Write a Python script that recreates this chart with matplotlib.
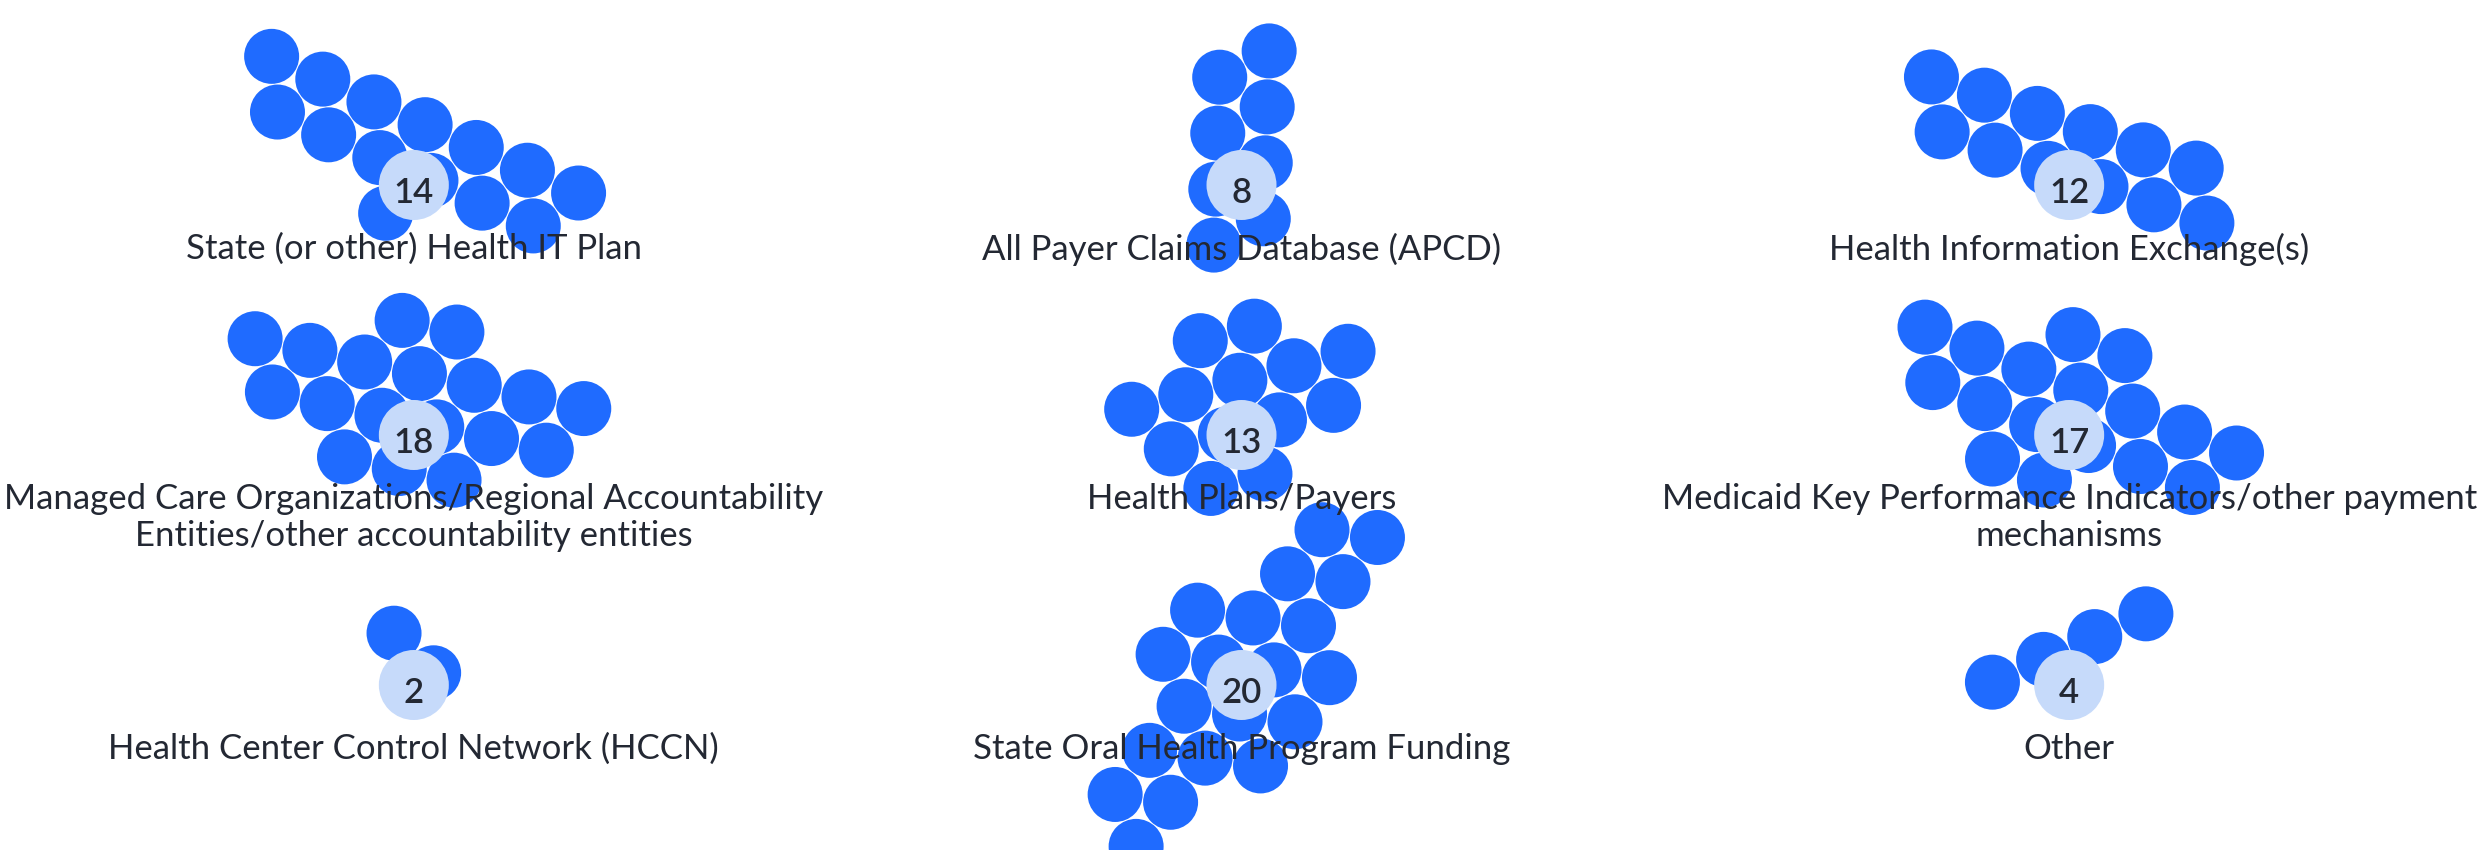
import numpy as np
import matplotlib
matplotlib.use("Agg")
import matplotlib.pyplot as plt
from matplotlib.patches import Circle

# data
categories = [
    "State (or other) Health IT Plan",
    "All Payer Claims Database (APCD)",
    "Health Information Exchange(s)",
    "Managed Care Organizations/Regional Accountability\nEntities/other accountability entities",
    "Health Plans/Payers",
    "Medicaid Key Performance Indicators/other payment\nmechanisms",
    "Health Center Control Network (HCCN)",
    "State Oral Health Program Funding",
    "Other",
]
counts = [14, 8, 12, 18, 13, 17, 2, 20, 4]

# cluster shape per group: orientation (deg), minor/major ratio, lift above
# the label, and lattice row offset (0 = centred row, 0.5 = straddling rows)
cluster_angle = [-24, 88, -19, -12, 15, -22, 75, 52, 24]
cluster_aspect = [0.38, 0.28, 0.36, 0.40, 0.60, 0.40, 0.50, 0.38, 0.20]
cluster_lift = [43, 45, 43, 43, 40, 33, 40, 13, 45]
cluster_row_shift = [0.5, 0.5, 0.5, 0.5, 0.5, 0.5, 0.5, 0.5, 0.0]

W, H = 2483, 850
DOT_R = 27.5
STEP = 56
DOT_COLOR = "#1f6bff"
HALO_COLOR = "#c6dafa"
TEXT_COLOR = "#232833"
FONT = "Lato"


def cluster(n, angle, aspect, shift):
    # pick the n hex-lattice points closest to the origin (elliptic metric)
    pts = []
    for j in range(-8, 8):
        for i in range(-12, 13):
            u = STEP * (i + 0.5 * (j % 2)) + 0.1
            v = STEP * np.sqrt(3) / 2 * (j + shift)
            pts.append((u, v))
    pts = np.array(pts)
    d = (pts[:, 0]) ** 2 + (pts[:, 1] / aspect) ** 2
    sel = pts[np.argsort(d, kind="stable")[:n]]
    sel = sel - sel.mean(axis=0)
    a = np.deg2rad(angle)
    rot = np.array([[np.cos(a), -np.sin(a)], [np.sin(a), np.cos(a)]])
    xy = sel @ rot.T
    xy[:, 1] = -xy[:, 1]  # screen coords, y downward
    return xy


fig = plt.figure(figsize=(W / 100, H / 100), dpi=100)
ax = fig.add_axes([0, 0, 1, 1])
ax.set_xlim(0, W)
ax.set_ylim(H, 0)
ax.set_aspect("equal")
ax.axis("off")

col_x = [W / 6, W / 2, 5 * W / 6]
row_y = [193, 443, 693]

for k, (label, n) in enumerate(zip(categories, counts)):
    cx = col_x[k % 3]
    cy = row_y[k // 3]
    xy = cluster(n, cluster_angle[k], cluster_aspect[k], cluster_row_shift[k])
    for x, y in xy:
        ax.add_patch(Circle((cx + x, cy - cluster_lift[k] + y), DOT_R,
                            color=DOT_COLOR, lw=0))
    ax.add_patch(Circle((cx, cy - 8), 35, color=HALO_COLOR, lw=0, zorder=3))
    ax.text(cx, cy, str(n), ha="center", va="center", fontsize=25,
            family=FONT, weight="semibold", color=TEXT_COLOR, zorder=4)
    for i, line in enumerate(label.split("\n")):
        ax.text(cx, cy + 56 + i * 37, line, ha="center", va="center",
                fontsize=25, family=FONT, color=TEXT_COLOR, zorder=5)

fig.savefig("out.png", dpi=100)
